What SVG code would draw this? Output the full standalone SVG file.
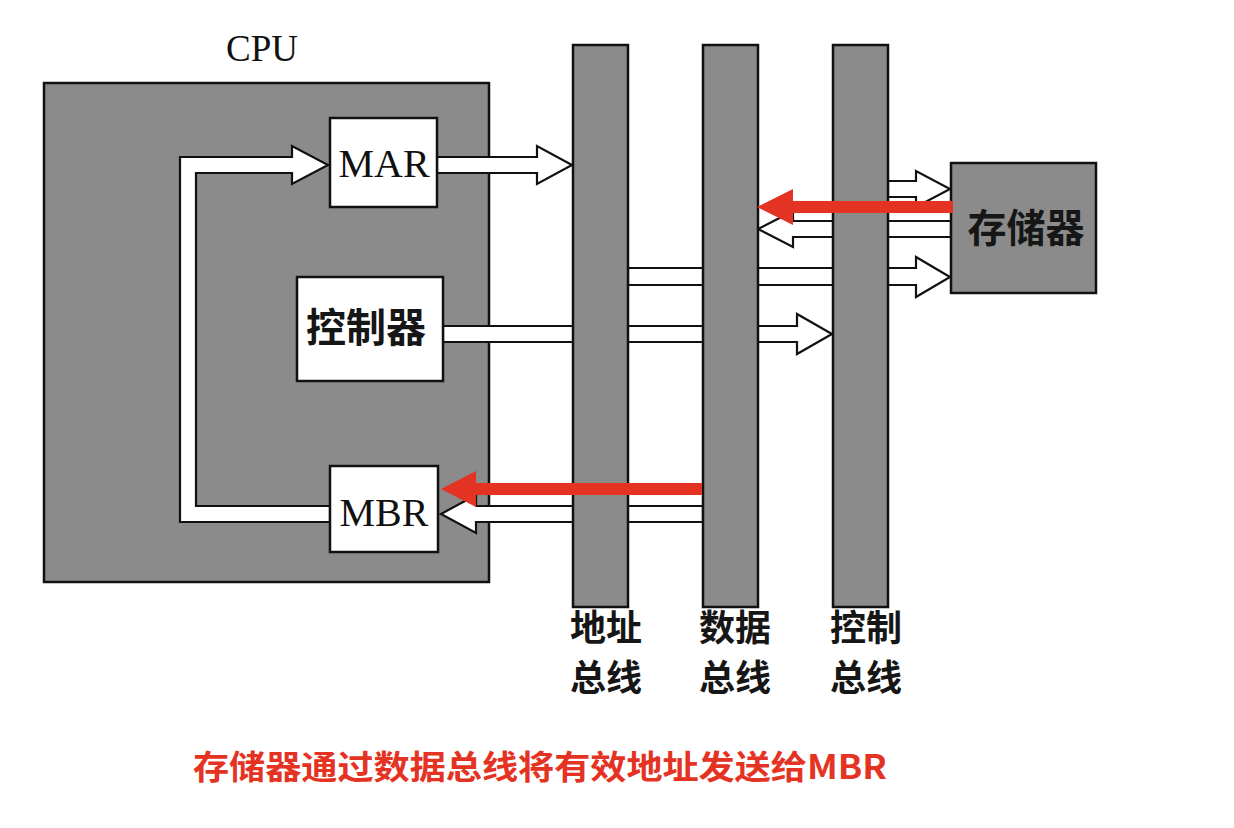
<svg xmlns="http://www.w3.org/2000/svg" width="1234" height="828" viewBox="0 0 1234 828">
<style>
.grey{fill:#8b8b8b;stroke:#111;stroke-width:2.5}
.box{fill:#fff;stroke:#111;stroke-width:2.5}
.hollow{fill:#fff;stroke:#111;stroke-width:2.2;stroke-linejoin:miter}
.red{fill:#e53323;stroke:none}
.serif{font-family:"Liberation Serif","Times New Roman",serif;fill:#111}
.cjk{font-family:"Noto Sans CJK SC","Noto Sans",sans-serif;font-weight:700;fill:#161616}
.caption{font-family:"Noto Sans CJK SC","Noto Sans",sans-serif;font-weight:700;fill:#e53323}
</style>
<rect width="1234" height="828" fill="#fff"/>

<g id="cpu">
  <rect class="grey" x="44" y="83" width="445" height="499"/>
  <text class="serif" x="262" y="61" font-size="37" text-anchor="middle">CPU</text>
</g>

<g id="connectors">
  <!-- MBR -> MAR loop -->
  <polygon class="hollow" points="330,522 180,522 180,157 292,157 292,146 328,165 292,184 292,173 196,173 196,506 330,506"/>
  <!-- MAR -> address bus -->
  <polygon class="hollow" points="437,157 537,157 537,146 572,165 537,184 537,173 437,173"/>
  <!-- controller -> control bus -->
  <polygon class="hollow" points="443,326 797,326 797,314 832,334 797,354 797,342 443,342"/>
  <!-- address bus -> memory -->
  <polygon class="hollow" points="628,268 916,268 916,257 950,277 916,297 916,285 628,285"/>
  <!-- control bus -> memory -->
  <polygon class="hollow" points="888,181 916,181 916,171 950,189 916,207 916,197 888,197"/>
  <!-- memory -> data bus -->
  <polygon class="hollow" points="951,221 793,221 793,211 758,229 793,247 793,237 951,237"/>
  <!-- data bus -> MBR -->
  <polygon class="hollow" points="703,506 476,506 476,495 441,514 476,533 476,522 703,522"/>
</g>

<g id="bus-address">
  <rect class="grey" x="573" y="45" width="55" height="562"/>
  <text class="cjk" x="606" y="641" font-size="36" text-anchor="middle">地址</text>
  <text class="cjk" x="606" y="691" font-size="36" text-anchor="middle">总线</text>
</g>
<g id="bus-data">
  <rect class="grey" x="703" y="45" width="55" height="562"/>
  <text class="cjk" x="735" y="641" font-size="36" text-anchor="middle">数据</text>
  <text class="cjk" x="735" y="691" font-size="36" text-anchor="middle">总线</text>
</g>
<g id="bus-control">
  <rect class="grey" x="833" y="45" width="55" height="562"/>
  <text class="cjk" x="866" y="641" font-size="36" text-anchor="middle">控制</text>
  <text class="cjk" x="866" y="691" font-size="36" text-anchor="middle">总线</text>
</g>

<g id="mar">
  <rect class="box" x="330" y="118" width="107" height="89"/>
  <text class="serif" x="384" y="177" font-size="40" text-anchor="middle">MAR</text>
</g>
<g id="controller">
  <rect class="box" x="297" y="277" width="146" height="104"/>
  <text class="cjk" x="366" y="342" font-size="40" text-anchor="middle">控制器</text>
</g>
<g id="mbr">
  <rect class="box" x="330" y="466" width="108" height="86"/>
  <text class="serif" x="384" y="526" font-size="40" text-anchor="middle">MBR</text>
</g>
<g id="memory">
  <rect class="grey" x="951" y="163" width="145" height="130"/>
  <text class="cjk" x="1026" y="242" font-size="39" text-anchor="middle">存储器</text>
</g>

<g id="highlight-connectors">
  <polygon class="red" points="953,201 793,201 793,189 757,207 793,225 793,213 953,213"/>
  <polygon class="red" points="702,483 476,483 476,471 441,489 476,507 476,495 702,495"/>
</g>

<g id="caption">
  <text class="caption" x="193" y="779" font-size="33" textLength="694" lengthAdjust="spacingAndGlyphs">存储器通过数据总线将有效地址发送给MBR</text>
</g>
</svg>
